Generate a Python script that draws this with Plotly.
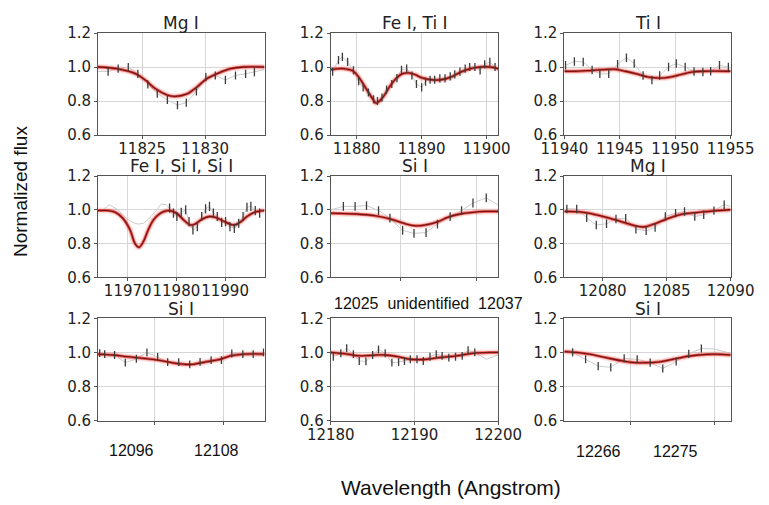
import plotly.graph_objects as go

W, H = 769, 505

# ---------------- data ----------------
# Panel 1: Mg I
p1_wl = [11822.3, 11823.1, 11823.9, 11824.66, 11825.45, 11826.2, 11827.0, 11827.8, 11828.5,
         11829.3, 11830.05, 11830.8, 11831.6, 11832.4, 11833.2, 11833.9]
p1_flux = [0.973, 0.99, 1.0, 0.96, 0.898, 0.843, 0.806, 0.776, 0.79,
           0.857, 0.94, 0.95, 0.924, 0.95, 0.96, 0.97]
p1_err = 0.024
p1_grey_wl = [11821.5, 11834.7]
p1_grey_flux = [0.975, 0.985]
p1_model_wl = [11821.5, 11823.0, 11824.5, 11825.3, 11826.0, 11827.0, 11827.6, 11828.5, 11829.3,
               11830.1, 11831.0, 11832.0, 11833.0, 11834.7]
p1_model = [1.0, 0.99, 0.96, 0.92, 0.875, 0.835, 0.827, 0.84, 0.88, 0.93, 0.963, 0.99, 1.0, 1.0]

# Panel 2: Fe I, Ti I
p2_wl = [11876.3, 11877.2, 11877.8, 11878.6, 11879.5, 11880.3, 11881.0, 11881.8, 11882.6, 11883.2,
         11883.9, 11884.6, 11885.4, 11886.2, 11886.9, 11887.7, 11888.5, 11889.2, 11890.0, 11890.6,
         11891.3, 11892.0, 11892.8, 11893.6, 11894.4, 11895.1, 11895.9, 11896.7, 11897.4, 11898.2,
         11899.0, 11899.7, 11900.5, 11901.3]
p2_flux = [0.973, 1.04, 1.06, 1.03, 0.98, 0.916, 0.88, 0.85, 0.81, 0.80,
           0.82, 0.867, 0.90, 0.935, 0.984, 0.99, 0.95, 0.90, 0.88, 0.914,
           0.925, 0.925, 0.933, 0.933, 0.945, 0.957, 0.973, 0.99, 1.0, 1.0,
           0.98, 1.015, 1.03, 1.0]
p2_err = 0.024
p2_grey_wl = []
p2_grey_flux = []
p2_model_wl = [11876.0, 11878.0, 11879.5, 11880.5, 11881.5, 11882.5, 11883.0, 11884.0, 11885.0,
               11886.0, 11887.0, 11888.0, 11889.0, 11890.0, 11891.5, 11893.0, 11894.5, 11896.0,
               11897.5, 11899.0, 11900.5, 11901.8]
p2_model = [0.985, 0.99, 0.975, 0.93, 0.87, 0.81, 0.787, 0.82, 0.88,
            0.93, 0.96, 0.965, 0.955, 0.937, 0.925, 0.925, 0.94, 0.97,
            0.99, 1.0, 1.0, 0.99]

# Panel 3: Ti I
p3_wl = [11940.1, 11940.9, 11941.7, 11942.5, 11943.2, 11944.0, 11944.8, 11945.6, 11946.3, 11947.1,
         11947.9, 11948.6, 11949.4, 11950.1, 11950.9, 11951.7, 11952.5, 11953.2, 11954.0, 11954.8]
p3_flux = [1.01, 1.033, 1.03, 0.982, 0.96, 0.96, 1.016, 1.055, 1.02, 0.95,
           0.923, 0.95, 1.0, 1.02, 1.0, 0.973, 0.97, 0.975, 1.01, 1.0]
p3_err = 0.025
p3_grey_wl = []
p3_grey_flux = []
p3_model_wl = [11940.0, 11941.0, 11942.5, 11944.5, 11945.5, 11946.5, 11947.5, 11948.5, 11949.5,
               11950.5, 11951.5, 11952.5, 11955.0]
p3_model = [0.975, 0.975, 0.98, 0.987, 0.975, 0.96, 0.942, 0.935, 0.94,
            0.955, 0.97, 0.975, 0.975]

# Panel 4: Fe I, Si I, Si I
p4_wl = [11978.6, 11979.4, 11980.1, 11981.0, 11981.9, 11982.6, 11983.4, 11984.3, 11985.2, 11986.0,
         11986.8, 11987.6, 11988.4, 11989.3, 11990.1, 11991.0, 11991.9, 11992.8, 11993.7, 11994.5,
         11995.3, 11996.2, 11997.1]
p4_flux = [1.01, 0.98, 0.96, 0.985, 1.0, 0.93, 0.88, 0.90, 0.96, 1.005,
           1.02, 0.98, 0.96, 0.925, 0.93, 0.90, 0.89, 0.92, 0.96, 1.015,
           1.02, 0.995, 0.98]
p4_err = 0.027
p4_grey_wl = [11963.9, 11965.0, 11966.2, 11968.0, 11969.7, 11971.0, 11972.1, 11973.2, 11974.1,
              11975.9, 11976.9, 11977.9]
p4_grey_flux = [1.0, 1.0, 1.03, 1.0, 0.95, 0.925, 0.915, 0.92, 0.94, 0.995, 1.035, 1.03]
p4_model_wl = [11963.9, 11966.0, 11967.5, 11969.0, 11970.5, 11971.5, 11972.3, 11973.2, 11974.2,
               11975.3, 11976.5, 11977.5, 11978.5, 11980.0, 11981.5, 11982.8, 11983.8, 11985.3,
               11986.8, 11988.0, 11989.5, 11991.0, 11992.0, 11993.3, 11994.5, 11996.0, 11998.1]
p4_model = [0.995, 0.995, 0.985, 0.95, 0.88, 0.80, 0.778, 0.81, 0.88,
            0.94, 0.975, 0.99, 0.995, 0.98, 0.94, 0.91, 0.915, 0.945,
            0.96, 0.955, 0.935, 0.915, 0.91, 0.93, 0.96, 0.985, 0.995]

# Panel 5: Si I
p5_wl = [12016.05, 12017.9, 12019.7, 12021.6, 12023.4, 12025.4, 12027.2, 12029.1, 12030.9,
         12032.9, 12034.7, 12036.5, 12038.6]
p5_flux = [1.02, 1.02, 1.025, 0.995, 0.95, 0.878, 0.86, 0.865, 0.915,
           0.96, 0.995, 1.04, 1.07]
p5_err = 0.026
p5_grey_wl = [12014.1, 12040.4]
p5_grey_flux = [1.0, 1.03]
p5_model_wl = [12014.05, 12018.0, 12021.0, 12023.5, 12026.0, 12027.5, 12029.0, 12031.0, 12032.5,
               12034.5, 12036.5, 12038.5, 12040.5]
p5_model = [0.98, 0.975, 0.965, 0.945, 0.915, 0.905, 0.91, 0.93, 0.955,
            0.975, 0.985, 0.99, 0.99]

# Panel 6: Mg I
p6_wl = [12077.2, 12077.97, 12078.75, 12079.5, 12080.3, 12081.04, 12081.8, 12082.6, 12083.4,
         12084.1, 12084.9, 12085.7, 12086.4, 12087.2, 12087.9, 12088.7, 12089.5]
p6_flux = [1.005, 1.005, 0.953, 0.91, 0.917, 0.945, 0.95, 0.885, 0.875,
           0.895, 0.96, 0.98, 0.99, 0.96, 0.97, 0.995, 1.03]
p6_err = 0.025
p6_grey_wl = [12090.0]
p6_grey_flux = [1.02]
p6_model_wl = [12077.0, 12078.5, 12079.8, 12081.0, 12082.3, 12083.2, 12084.0, 12085.0, 12086.0,
               12087.5, 12089.0, 12090.0]
p6_model = [0.99, 0.985, 0.965, 0.94, 0.91, 0.898, 0.915, 0.945, 0.97, 0.985, 0.995, 1.0]

# Panel 7: Si I
p7_wl = [12092.04, 12092.77, 12094.2, 12095.76, 12097.36, 12098.9, 12100.45, 12101.9, 12103.5,
         12105.1, 12106.6, 12108.2, 12109.7, 12111.2, 12112.8, 12114.3, 12115.8]
p7_flux = [0.996, 0.99, 0.985, 0.94, 0.963, 1.0, 0.973, 0.943, 0.943,
           0.93, 0.945, 0.955, 0.955, 0.994, 0.99, 0.99, 1.0]
p7_err = 0.023
p7_grey_wl = []
p7_grey_flux = []
p7_model_wl = [12091.8, 12094.0, 12096.0, 12098.5, 12100.5, 12102.5, 12104.5, 12105.5, 12107.5,
               12109.5, 12111.0, 12113.0, 12115.94]
p7_model = [0.99, 0.985, 0.975, 0.965, 0.955, 0.94, 0.93, 0.93, 0.945,
            0.96, 0.98, 0.99, 0.99]

# Panel 8: 12025 unidentified 12037
p8_wl = [12180.3, 12181.2, 12181.9, 12182.7, 12183.4, 12184.2, 12185.0, 12185.7, 12186.5, 12187.3,
         12188.1, 12188.8, 12189.5, 12190.3, 12191.05, 12191.85, 12192.6, 12193.3, 12194.1,
         12194.9, 12195.7, 12196.4, 12197.2]
p8_flux = [0.975, 0.995, 1.025, 0.99, 0.95, 0.948, 0.985, 1.018, 0.995, 0.94,
           0.943, 0.95, 0.96, 0.96, 0.95, 0.975, 0.99, 0.98, 0.97,
           0.975, 0.98, 1.013, 1.0]
p8_err = 0.023
p8_grey_wl = [12198.6, 12200.0]
p8_grey_flux = [0.96, 0.985]
p8_model_wl = [12180.0, 12182.0, 12183.5, 12185.5, 12186.5, 12188.0, 12189.5, 12190.5, 12191.5,
               12193.0, 12195.0, 12197.0, 12199.0, 12200.0]
p8_model = [1.0, 0.99, 0.98, 0.985, 0.985, 0.975, 0.96, 0.958, 0.96, 0.97, 0.98, 0.995, 1.0, 1.0]

# Panel 9: Si I
p9_wl = [12263.05, 12264.6, 12266.1, 12267.6, 12269.2, 12270.75, 12272.3, 12273.8, 12275.4,
         12276.9, 12278.4]
p9_flux = [1.0, 0.96, 0.92, 0.913, 0.965, 0.96, 0.94, 0.906, 0.947, 0.992, 1.023]
p9_err = 0.024
p9_grey_wl = [12262.1, 12280.0, 12281.8]
p9_grey_flux = [1.01, 1.02, 0.995]
p9_model_wl = [12262.06, 12263.5, 12265.0, 12267.0, 12269.0, 12270.5, 12272.0, 12273.5, 12275.0,
               12276.5, 12278.0, 12280.0, 12281.9]
p9_model = [1.005, 1.0, 0.99, 0.97, 0.95, 0.94, 0.94, 0.945, 0.96, 0.975, 0.985, 0.99, 0.985]

titles = ["Mg I", "Fe I, Ti I", "Ti I", "Fe I, Si I, Si I", "Si I", "Mg I", "Si I", "", "Si I"]
x_ranges = [[11821.5, 11834.7], [11876.0, 11901.8], [11939.99, 11955.01],
            [11963.9, 11998.1], [12014.05, 12040.5], [12077.0, 12090.01],
            [12091.8, 12115.94], [12179.99, 12200.01], [12262.06, 12281.9]]
x_ticks = [[11825, 11830], [11880, 11890, 11900], [11940, 11945, 11950, 11955],
           [11970, 11980, 11990], [12025, 12037], [12080, 12085, 12090],
           [12100, 12110], [12180, 12190, 12200], [12270, 12280]]
show_xlabels = [True, True, True, True, False, True, False, True, False]
y_ticks = [0.6, 0.8, 1.0, 1.2]
extra_labels = [("12096", 131.7, 450), ("12108", 216.7, 450),
                ("12266", 598.3, 451), ("12275", 675.0, 451)]
panel8_title = "12025\u00a0\u00a0unidentified\u00a0\u00a012037"

panels = [
    (p1_wl, p1_flux, p1_err, p1_grey_wl, p1_grey_flux, p1_model_wl, p1_model),
    (p2_wl, p2_flux, p2_err, p2_grey_wl, p2_grey_flux, p2_model_wl, p2_model),
    (p3_wl, p3_flux, p3_err, p3_grey_wl, p3_grey_flux, p3_model_wl, p3_model),
    (p4_wl, p4_flux, p4_err, p4_grey_wl, p4_grey_flux, p4_model_wl, p4_model),
    (p5_wl, p5_flux, p5_err, p5_grey_wl, p5_grey_flux, p5_model_wl, p5_model),
    (p6_wl, p6_flux, p6_err, p6_grey_wl, p6_grey_flux, p6_model_wl, p6_model),
    (p7_wl, p7_flux, p7_err, p7_grey_wl, p7_grey_flux, p7_model_wl, p7_model),
    (p8_wl, p8_flux, p8_err, p8_grey_wl, p8_grey_flux, p8_model_wl, p8_model),
    (p9_wl, p9_flux, p9_err, p9_grey_wl, p9_grey_flux, p9_model_wl, p9_model),
]

# ---------------- layout geometry (pixels) ----------------
col_px = [(98.0, 264.5), (330.7, 498.3), (564.3, 730.7)]
row_px = [(33.0, 135.0), (176.0, 277.3), (318.3, 420.7)]
title_y_px = [22.5, 165.5, 308.5]


def px_x(v):
    return v / W


def px_y(v):
    return 1 - v / H


TICK_FONT = dict(family="DejaVu Sans", size=15, color="#222222")
TITLE_FONT = dict(family="DejaVu Sans", size=17, color="#222222")
ARIAL = "Liberation Sans, Arial, sans-serif"

fig = go.Figure()
layout = dict(
    width=W, height=H, margin=dict(l=0, r=0, t=0, b=0, autoexpand=False),
    paper_bgcolor="white", plot_bgcolor="white", showlegend=False,
)
annotations = []

for i, (wl, flux, err, gwl, gflux, mwl, mflux) in enumerate(panels):
    r, c = divmod(i, 3)
    n = i + 1
    xa = "x" if n == 1 else f"x{n}"
    ya = "y" if n == 1 else f"y{n}"
    xkey = "xaxis" if n == 1 else f"xaxis{n}"
    ykey = "yaxis" if n == 1 else f"yaxis{n}"

    # observed spectrum (grey line through points, plus grey-only parts)
    pts = sorted(list(zip(wl, flux)) + list(zip(gwl, gflux)))
    fig.add_trace(go.Scatter(x=[p[0] for p in pts], y=[p[1] for p in pts], mode="lines",
                             line=dict(color="#cccccc", width=1), xaxis=xa, yaxis=ya,
                             hoverinfo="skip"))
    # model band and best fit
    fig.add_trace(go.Scatter(x=mwl, y=mflux, mode="lines",
                             line=dict(color="rgba(240,110,100,0.22)", width=6, shape="spline"),
                             xaxis=xa, yaxis=ya, hoverinfo="skip"))
    fig.add_trace(go.Scatter(x=mwl, y=mflux, mode="lines",
                             line=dict(color="rgba(222,45,38,0.7)", width=3, shape="spline"),
                             xaxis=xa, yaxis=ya, hoverinfo="skip"))
    fig.add_trace(go.Scatter(x=mwl, y=mflux, mode="lines",
                             line=dict(color="#7a1212", width=1.3, shape="spline"),
                             xaxis=xa, yaxis=ya, hoverinfo="skip"))
    # error bars
    fig.add_trace(go.Scatter(x=wl, y=flux, mode="markers",
                             marker=dict(size=1, color="rgba(0,0,0,0)"),
                             error_y=dict(type="constant", value=err, width=0,
                                          thickness=1.3, color="#3c3c3c"),
                             xaxis=xa, yaxis=ya, hoverinfo="skip"))

    x0, x1 = col_px[c]
    y0, y1 = row_px[r]
    layout[xkey] = dict(
        domain=[px_x(x0), px_x(x1)], anchor=ya, range=x_ranges[i],
        tickmode="array", tickvals=x_ticks[i], tickangle=0, automargin=False,
        showticklabels=show_xlabels[i], tickformat="d", ticklabelstandoff=-3,
        showgrid=True, gridcolor="#d6d6d6", gridwidth=1,
        showline=True, linecolor="#555555", linewidth=1, mirror=True,
        ticks="outside", ticklen=3, tickcolor="#555555",
        tickfont=TICK_FONT, zeroline=False, fixedrange=True,
    )
    layout[ykey] = dict(
        domain=[px_y(y1), px_y(y0)], anchor=xa, range=[0.6, 1.2],
        tickmode="array", tickvals=y_ticks, tickformat=".1f", automargin=False,
        showgrid=True, gridcolor="#d6d6d6", gridwidth=1,
        showline=True, linecolor="#555555", linewidth=1, mirror=True,
        ticks="outside", ticklen=3, tickcolor="#555555",
        tickfont=TICK_FONT, zeroline=False, fixedrange=True,
    )
    if titles[i]:
        annotations.append(dict(text=titles[i], x=px_x((x0 + x1) / 2), y=px_y(title_y_px[r]),
                                xref="paper", yref="paper", xanchor="center", yanchor="middle",
                                showarrow=False, font=TITLE_FONT))

annotations.append(dict(text=panel8_title, x=px_x(428), y=px_y(303), xref="paper", yref="paper",
                        xanchor="center", yanchor="middle", showarrow=False,
                        font=dict(family=ARIAL, size=16, color="#111111")))
for txt, xp, yp in extra_labels:
    annotations.append(dict(text=txt, x=px_x(xp), y=px_y(yp), xref="paper", yref="paper",
                            xanchor="center", yanchor="middle", showarrow=False,
                            font=dict(family=ARIAL, size=16, color="#111111")))
annotations.append(dict(text="Normalized flux", x=px_x(20), y=px_y(192), xref="paper",
                        yref="paper", xanchor="center", yanchor="middle", textangle=-90,
                        showarrow=False, font=dict(family=ARIAL, size=19, color="#111111")))
annotations.append(dict(text="Wavelength (Angstrom)", x=px_x(451), y=px_y(487), xref="paper",
                        yref="paper", xanchor="center", yanchor="middle", showarrow=False,
                        font=dict(family=ARIAL, size=21, color="#111111")))
layout["annotations"] = annotations
fig.update_layout(**layout)
fig.write_html("out.html", config={"displayModeBar": False},
               post_script="document.body.style.margin='0';")
